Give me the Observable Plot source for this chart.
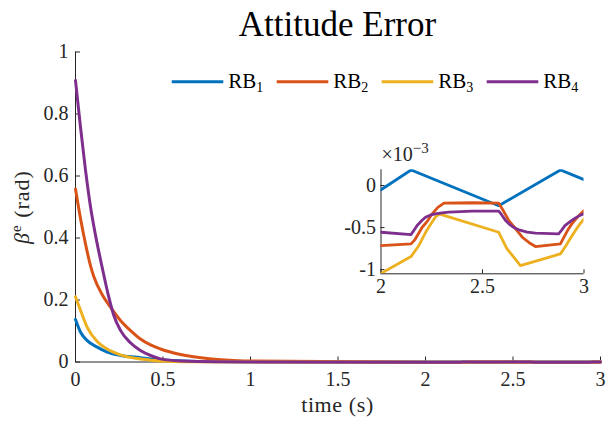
<!DOCTYPE html>
<html>
<head>
<meta charset="utf-8">
<script src="https://cdn.jsdelivr.net/npm/d3@7"></script>
<script src="https://cdn.jsdelivr.net/npm/@observablehq/plot@0.6"></script>
<style>
  html, body { margin: 0; padding: 0; background: #fff; }
  #wrap { position: relative; width: 607px; height: 421px; overflow: hidden; }
  #wrap svg { position: absolute; font-family: "Liberation Serif", "DejaVu Serif", serif !important; }
  #wrap svg text { font-family: "Liberation Serif", "DejaVu Serif", serif !important; }
</style>
</head>
<body>
<div id="wrap"></div>
<script>
// ---------- data ----------
const seriesNames = ["RB1", "RB2", "RB3", "RB4"];
const seriesLabels = ["RB", "RB", "RB", "RB"];
const seriesSubs = ["1", "2", "3", "4"];
const seriesColors = ["#0072BD", "#D95319", "#EDB120", "#7E2F8E"];

// early transient, time (s) and attitude error (rad)
const tRB1 = [0, 0.029, 0.067, 0.124, 0.181, 0.257, 0.352, 0.429, 0.55, 0.7, 1.0];
const vRB1 = [0.137, 0.096, 0.069, 0.048, 0.032, 0.021, 0.015, 0.010, 0.005, 0.002, 0.0005];
const tRB2 = [0, 0.02, 0.043, 0.067, 0.086, 0.105, 0.152, 0.2, 0.257, 0.333, 0.371, 0.429, 0.486, 0.6, 0.752, 0.905, 1.0];
const vRB2 = [0.558, 0.49, 0.42, 0.355, 0.31, 0.275, 0.218, 0.177, 0.134, 0.092, 0.074, 0.055, 0.042, 0.024, 0.011, 0.005, 0.003];
const tRB3 = [0, 0.029, 0.067, 0.124, 0.181, 0.257, 0.352, 0.429, 0.55, 0.7];
const vRB3 = [0.21, 0.166, 0.112, 0.066, 0.042, 0.023, 0.011, 0.006, 0.002, 0.0005];
const tRB4 = [0, 0.029, 0.057, 0.086, 0.114, 0.152, 0.19, 0.219, 0.257, 0.314, 0.371, 0.429, 0.486, 0.6, 0.8];
const vRB4 = [0.908, 0.755, 0.62, 0.5, 0.41, 0.306, 0.21, 0.15, 0.102, 0.062, 0.037, 0.021, 0.01, 0.003, 0.0005];

// steady state 2..3 s, values in units of 1e-3 rad (inset)
const insetScale = 1e-3;
const tInsetRB1 = [2.0, 2.148, 2.58, 2.884, 3.0];
const vInsetRB1 = [-0.05, 0.185, -0.24, 0.185, 0.07];
const tInsetRB2 = [2.0, 2.148, 2.165, 2.185, 2.203, 2.23, 2.252, 2.28, 2.31, 2.45, 2.58, 2.605, 2.63, 2.665, 2.696, 2.73, 2.761, 2.884, 2.9, 2.92, 2.94, 2.97, 3.0];
const vInsetRB2 = [-0.714, -0.694, -0.65, -0.57, -0.496, -0.42, -0.337, -0.26, -0.21, -0.205, -0.21, -0.31, -0.417, -0.52, -0.615, -0.68, -0.726, -0.694, -0.62, -0.53, -0.456, -0.37, -0.298];
const tInsetRB3 = [2.0, 2.148, 2.185, 2.219, 2.25, 2.27, 2.29, 2.58, 2.62, 2.687, 2.884, 2.91, 2.94, 2.97, 3.0];
const vInsetRB3 = [-1.045, -0.845, -0.72, -0.56, -0.44, -0.37, -0.34, -0.556, -0.75, -0.952, -0.813, -0.72, -0.6, -0.49, -0.397];
const tInsetRB4 = [2.0, 2.148, 2.16, 2.178, 2.2, 2.219, 2.245, 2.268, 2.3, 2.334, 2.45, 2.58, 2.595, 2.615, 2.63, 2.655, 2.68, 2.72, 2.761, 2.875, 2.89, 2.905, 2.917, 2.94, 2.958, 2.98, 3.0];
const vInsetRB4 = [-0.556, -0.583, -0.54, -0.476, -0.42, -0.377, -0.35, -0.337, -0.325, -0.317, -0.305, -0.305, -0.35, -0.42, -0.456, -0.5, -0.528, -0.555, -0.567, -0.575, -0.53, -0.48, -0.456, -0.415, -0.385, -0.355, -0.337];

// axes
const xDomain = [0, 3];
const yDomain = [0, 1];
const xTicks = [0, 0.5, 1, 1.5, 2, 2.5, 3];
const xTickLabels = ["0", "0.5", "1", "1.5", "2", "2.5", "3"];
const yTicks = [0, 0.2, 0.4, 0.6, 0.8, 1];
const yTickLabels = ["0", "0.2", "0.4", "0.6", "0.8", "1"];
const insetXDomain = [2, 3];
const insetYDomain = [-1.05, 0.187];
const insetXTicks = [2, 2.5, 3];
const insetXTickLabels = ["2", "2.5", "3"];
const insetYTicks = [-1, -0.5, 0];
const insetYTickLabels = ["-1", "-0.5", "0"];

const titleText = "Attitude Error";
const xLabelText = "time (s)";
const yLabelSymbol = "β";
const yLabelSup = "e";
const yLabelUnit = " (rad)";
const insetExpBase = "×10";
const insetExpPow = "−3";

// ---------- build tables ----------
const earlyT = [tRB1, tRB2, tRB3, tRB4];
const earlyV = [vRB1, vRB2, vRB3, vRB4];
const insT = [tInsetRB1, tInsetRB2, tInsetRB3, tInsetRB4];
const insV = [vInsetRB1, vInsetRB2, vInsetRB3, vInsetRB4];
const rows = [], insetRows = [];
seriesNames.forEach((name, k) => {
  earlyT[k].forEach((t, i) => rows.push({series: name, t, v: earlyV[k][i]}));
  insT[k].forEach((t, i) => {
    rows.push({series: name, t, v: insV[k][i] * insetScale});
    insetRows.push({series: name, t, v: insV[k][i]});
  });
});

const FONT = "Liberation Serif, DejaVu Serif, serif";
const AXIS = "#262626";
const lab = (ticks, labels) => d => labels[ticks.indexOf(d)];

// ---------- main plot ----------
const W = 607, H = 421;
const main = Plot.plot({
  width: W, height: H,
  marginLeft: 75, marginRight: 7, marginTop: 51.5, marginBottom: 59.5,
  x: {domain: xDomain},
  y: {domain: yDomain},
  color: {domain: seriesNames, range: seriesColors},
  style: {fontFamily: FONT, fontSize: "20px", color: AXIS, background: "transparent", overflow: "visible"},
  marks: [
    Plot.ruleX([xDomain[0]], {stroke: AXIS, strokeWidth: 1}),
    Plot.ruleY([yDomain[0]], {stroke: AXIS, strokeWidth: 1}),
    Plot.axisX(xTicks, {anchor: "bottom", tickSize: -5, tickPadding: 15, tickFormat: lab(xTicks, xTickLabels), label: null}),
    Plot.axisY(yTicks, {anchor: "left", tickSize: -5, tickPadding: 12, tickFormat: lab(yTicks, yTickLabels), label: null}),
    Plot.line(rows, {x: "t", y: "v", z: "series", stroke: "series", strokeWidth: 3, curve: "monotone-x"})
  ]
});
document.getElementById("wrap").appendChild(main);
main.style.left = "0px"; main.style.top = "0px";

const svg = d3.select(main);
const g = svg.append("g").attr("font-family", FONT).attr("fill", "#000").attr("text-anchor", "start");

// title
g.append("text").attr("x", 337.5).attr("y", 36).attr("text-anchor", "middle")
  .attr("font-size", 35).attr("fill", "#000").text(titleText);

// x label
g.append("text").attr("x", 337.5).attr("y", 412).attr("text-anchor", "middle")
  .attr("font-size", 22).attr("letter-spacing", 0.6).attr("fill", AXIS).text(xLabelText);

// y label
const yl = g.append("text").attr("transform", "translate(29,207) rotate(-90)")
  .attr("text-anchor", "middle").attr("font-size", 22).attr("letter-spacing", 1).attr("fill", AXIS);
yl.append("tspan").attr("font-style", "italic").text(yLabelSymbol);
yl.append("tspan").attr("font-size", 15).attr("dy", -8).text(yLabelSup);
yl.append("tspan").attr("dy", 8).text(yLabelUnit);

// legend
const legX0 = 171.7, legStep = 105, legLine = 51.6, legY = 81.7;
seriesNames.forEach((name, k) => {
  const x = legX0 + k * legStep;
  g.append("line").attr("x1", x).attr("x2", x + legLine).attr("y1", legY).attr("y2", legY)
    .attr("stroke", seriesColors[k]).attr("stroke-width", 3);
  const t = g.append("text").attr("x", x + legLine + 5).attr("y", 87.5).attr("text-anchor", "start")
    .attr("font-size", 21).attr("fill", "#000");
  t.append("tspan").text(seriesLabels[k]);
  t.append("tspan").attr("font-size", 14).attr("dy", 4).text(seriesSubs[k]);
});

// ---------- inset ----------
const IL = 330, IT = 140, IW = 270, IH = 165;
const inset = Plot.plot({
  width: IW, height: IH,
  marginLeft: 50.5, marginRight: 16.5, marginTop: 29.3, marginBottom: 31.7,
  x: {domain: insetXDomain},
  y: {domain: insetYDomain},
  color: {domain: seriesNames, range: seriesColors},
  style: {fontFamily: FONT, fontSize: "20px", color: AXIS, background: "transparent", overflow: "visible"},
  marks: [
    Plot.ruleX([insetXDomain[0]], {stroke: AXIS, strokeWidth: 1}),
    Plot.ruleY([insetYDomain[0]], {stroke: AXIS, strokeWidth: 1}),
    Plot.axisX(insetXTicks, {anchor: "bottom", tickSize: -4, tickPadding: 9, tickFormat: lab(insetXTicks, insetXTickLabels), label: null}),
    Plot.axisY(insetYTicks, {anchor: "left", tickSize: -4, tickPadding: 9, tickFormat: lab(insetYTicks, insetYTickLabels), label: null}),
    Plot.line(insetRows, {x: "t", y: "v", z: "series", stroke: "series", strokeWidth: 2.8, strokeLinejoin: "round", clip: true})
  ]
});
document.getElementById("wrap").appendChild(inset);
inset.style.left = IL + "px"; inset.style.top = IT + "px";
const ig = d3.select(inset).append("g").attr("font-family", FONT).attr("text-anchor", "start");
const ex = ig.append("text").attr("x", 51.5).attr("y", 21).attr("text-anchor", "start").attr("font-size", 20).attr("fill", AXIS);
ex.append("tspan").text(insetExpBase);
ex.append("tspan").attr("font-size", 15).attr("dy", -8).text(insetExpPow);
</script>
</body>
</html>
